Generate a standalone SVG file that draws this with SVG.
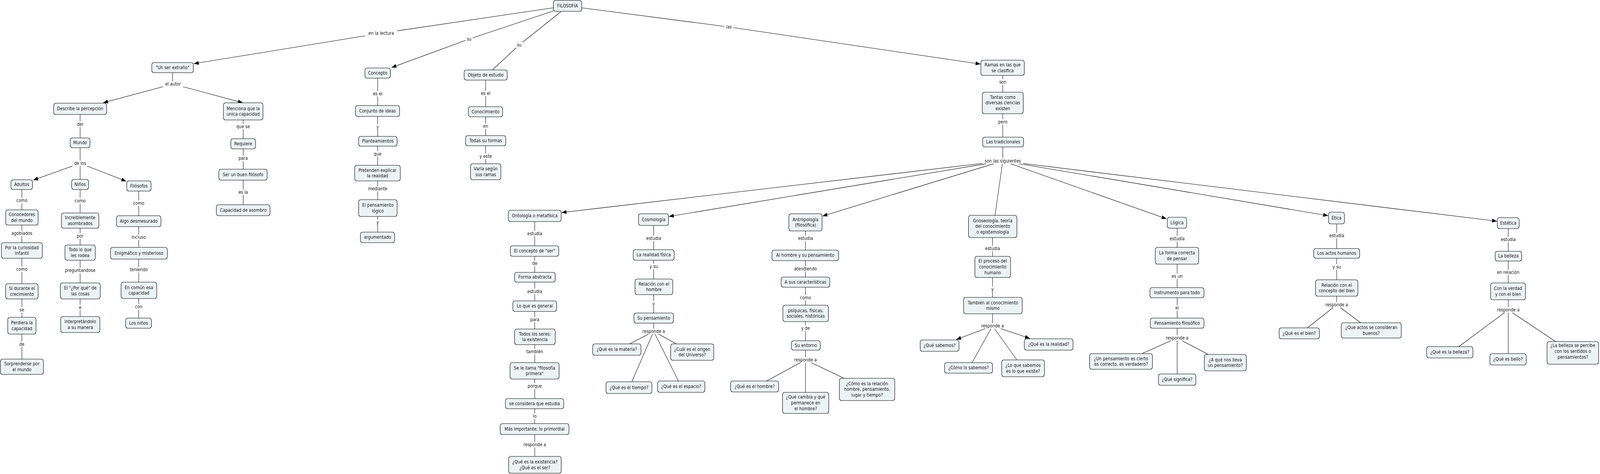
<svg xmlns="http://www.w3.org/2000/svg" width="4533" height="1213" viewBox="0 0 4533 1213">
<defs>
<marker id="ah" markerUnits="userSpaceOnUse" markerWidth="14" markerHeight="10" refX="14" refY="5" orient="auto" viewBox="0 0 14 10"><path d="M0,0 L14,5 L0,10 z" fill="#000"/></marker>
<style>
text{font-family:"DejaVu Sans",Verdana,sans-serif;font-size:11.5px;fill:#161616;text-anchor:middle}
.n rect{fill:#ECF3F5;stroke:#000;stroke-width:1.2}
.c path{stroke:#000;stroke-width:1.1;fill:none}
.c path.a{marker-end:url(#ah)}
.lb rect{fill:#fff}
</style>
</defs>
<rect x="0" y="0" width="4533" height="1213" fill="#fff"/>
<g id="diagram" transform="scale(0.903596,1)">
<g id="connectors" class="c">
<path class="a" d="M1567,20 L1080,85 L549,163"/>
<path class="a" d="M1568,28 L1329,100 L1109,173"/>
<path d="M1589,30 L1471,115 L1395,179"/>
<path class="a" d="M1648,20 L2065,69 L2778,164"/>
<path d="M489,186 L489,215"/>
<path class="a" d="M490,215 L688,263"/>
<path class="a" d="M490,215 L292,263"/>
<path d="M227,293 L227,418 L227,459"/>
<path class="a" d="M227,418 L94,461"/>
<path class="a" d="M227,418 L358,464"/>
<path d="M62,485 L62,919"/>
<path d="M227,485 L227,810"/>
<path d="M393,489 L393,814"/>
<path d="M689,307 L689,524"/>
<path d="M1070,200 L1070,594"/>
<path d="M1376,205 L1376,419"/>
<path d="M2841,193 L2841,412"/>
<path class="a" d="M2841,412 L1591,544"/>
<path class="a" d="M2841,412 L1895,554"/>
<path class="a" d="M2841,412 L2330,553"/>
<path d="M2841,412 L2819,551"/>
<path class="a" d="M2841,412 L3305,560"/>
<path class="a" d="M2841,412 L3763,552"/>
<path class="a" d="M2841,412 L4241,566"/>
<path d="M1515,567 L1515,1168"/>
<path d="M1852,577 L1852,848"/>
<path d="M1852,848 L1784,880"/>
<path d="M1852,848 L1916,880"/>
<path d="M1852,848 L1790,977"/>
<path d="M1852,848 L1922,975"/>
<path d="M2282,591 L2282,1004"/>
<path d="M2282,921 L2172,975"/>
<path d="M2282,921 L2391,968"/>
<path d="M2812,608 L2812,834"/>
<path class="a" d="M2812,834 L2709,869"/>
<path d="M2812,834 L2754,928"/>
<path d="M2812,834 L2881,921"/>
<path class="a" d="M2812,834 L2918,866"/>
<path d="M3335,584 L3335,957"/>
<path d="M3335,865 L3235,905"/>
<path d="M3335,865 L3423,907"/>
<path d="M3787,573 L3787,780"/>
<path d="M3787,780 L3704,839"/>
<path d="M3787,780 L3855,826"/>
<path d="M4273,585 L4273,905"/>
<path d="M4273,793 L4133,887"/>
<path d="M4273,793 L4407,874"/>
<g id="link-labels" class="lb">
<rect x="1034" y="78" width="92" height="14"/><text x="1080" y="89">en la lectura</text>
<rect x="1319" y="93" width="20" height="14"/><text x="1329" y="104">su</text>
<rect x="1461" y="108" width="20" height="14"/><text x="1471" y="119">su</text>
<rect x="2052" y="62" width="26" height="14"/><text x="2065" y="73">las</text>
<rect x="461" y="208" width="58" height="14"/><text x="490" y="219">el autor</text>
<rect x="214" y="311" width="26" height="14"/><text x="227" y="322">del</text>
<rect x="204" y="411" width="46" height="14"/><text x="227" y="422">de los</text>
<rect x="44" y="506" width="36" height="14"/><text x="62" y="517">como</text>
<rect x="209" y="507" width="36" height="14"/><text x="227" y="518">como</text>
<rect x="375" y="513" width="36" height="14"/><text x="393" y="524">como</text>
<rect x="29" y="590" width="66" height="14"/><text x="62" y="601">agobiados</text>
<rect x="214" y="597" width="26" height="14"/><text x="227" y="608">por</text>
<rect x="368" y="600" width="50" height="14"/><text x="393" y="611">incluso</text>
<rect x="44" y="682" width="36" height="14"/><text x="62" y="693">como</text>
<rect x="181" y="685" width="92" height="14"/><text x="227" y="696">preguntandose</text>
<rect x="363" y="683" width="60" height="14"/><text x="393" y="694">teniendo</text>
<rect x="52" y="786" width="20" height="14"/><text x="62" y="797">se</text>
<rect x="220" y="780" width="14" height="14"/><text x="227" y="791">e</text>
<rect x="379" y="778" width="28" height="14"/><text x="393" y="789">con</text>
<rect x="52" y="874" width="20" height="14"/><text x="62" y="885">de</text>
<rect x="666" y="317" width="46" height="14"/><text x="689" y="328">que se</text>
<rect x="672" y="398" width="34" height="14"/><text x="689" y="409">para</text>
<rect x="670" y="485" width="38" height="14"/><text x="689" y="496">es la</text>
<rect x="1051" y="233" width="38" height="14"/><text x="1070" y="244">es el</text>
<rect x="1063" y="318" width="14" height="14"/><text x="1070" y="329">y</text>
<rect x="1056" y="387" width="28" height="14"/><text x="1070" y="398">que</text>
<rect x="1039" y="476" width="62" height="14"/><text x="1070" y="487">mediante</text>
<rect x="1063" y="562" width="14" height="14"/><text x="1070" y="573">y</text>
<rect x="1357" y="232" width="38" height="14"/><text x="1376" y="243">es el</text>
<rect x="1366" y="316" width="20" height="14"/><text x="1376" y="327">en</text>
<rect x="1354" y="393" width="44" height="14"/><text x="1376" y="404">y este</text>
<rect x="2827" y="203" width="28" height="14"/><text x="2841" y="214">son</text>
<rect x="2824" y="305" width="34" height="14"/><text x="2841" y="316">pero</text>
<rect x="2783" y="405" width="116" height="14"/><text x="2841" y="416">son las siguientes</text>
<rect x="1489" y="591" width="52" height="14"/><text x="1515" y="602">estudia</text>
<rect x="1505" y="667" width="20" height="14"/><text x="1515" y="678">de</text>
<rect x="1489" y="739" width="52" height="14"/><text x="1515" y="750">estudia</text>
<rect x="1498" y="811" width="34" height="14"/><text x="1515" y="822">para</text>
<rect x="1487" y="893" width="56" height="14"/><text x="1515" y="904">también</text>
<rect x="1491" y="981" width="48" height="14"/><text x="1515" y="992">porque</text>
<rect x="1507" y="1058" width="16" height="14"/><text x="1515" y="1069">lo</text>
<rect x="1479" y="1131" width="72" height="14"/><text x="1515" y="1142">responde a</text>
<rect x="1826" y="603" width="52" height="14"/><text x="1852" y="614">estudia</text>
<rect x="1835" y="675" width="34" height="14"/><text x="1852" y="686">y su</text>
<rect x="1845" y="770" width="14" height="14"/><text x="1852" y="781">y</text>
<rect x="1816" y="841" width="72" height="14"/><text x="1852" y="852">responde a</text>
<rect x="2256" y="603" width="52" height="14"/><text x="2282" y="614">estudia</text>
<rect x="2246" y="681" width="72" height="14"/><text x="2282" y="692">atendiendo</text>
<rect x="2264" y="755" width="36" height="14"/><text x="2282" y="766">como</text>
<rect x="2265" y="833" width="34" height="14"/><text x="2282" y="844">y de</text>
<rect x="2246" y="914" width="72" height="14"/><text x="2282" y="925">responde a</text>
<rect x="2786" y="629" width="52" height="14"/><text x="2812" y="640">estudia</text>
<rect x="2805" y="733" width="14" height="14"/><text x="2812" y="744">y</text>
<rect x="2776" y="827" width="72" height="14"/><text x="2812" y="838">responde a</text>
<rect x="3309" y="604" width="52" height="14"/><text x="3335" y="615">estudia</text>
<rect x="3315" y="700" width="40" height="14"/><text x="3335" y="711">es un</text>
<rect x="3327" y="781" width="16" height="14"/><text x="3335" y="792">el</text>
<rect x="3299" y="858" width="72" height="14"/><text x="3335" y="869">responde a</text>
<rect x="3761" y="596" width="52" height="14"/><text x="3787" y="607">estudia</text>
<rect x="3770" y="676" width="34" height="14"/><text x="3787" y="687">y su</text>
<rect x="3751" y="773" width="72" height="14"/><text x="3787" y="784">responde a</text>
<rect x="4247" y="606" width="52" height="14"/><text x="4273" y="617">estudia</text>
<rect x="4236" y="690" width="74" height="14"/><text x="4273" y="701">en relación</text>
<rect x="4237" y="786" width="72" height="14"/><text x="4273" y="797">responde a</text>
</g>
</g>
<g id="nodes" class="n">
<g id="n1"><rect x="1568" y="1" width="80" height="28" rx="6"/><text x="1608" y="19">FILOSOFÍA</text></g>
<g id="n2"><rect x="430" y="160" width="118" height="26" rx="6"/><text x="489" y="177">"Un ser extraño"</text></g>
<g id="n3"><rect x="152" y="264" width="150" height="29" rx="6"/><text x="227" y="282.5">Describe la percepción</text></g>
<g id="n4"><rect x="633" y="263" width="112" height="44" rx="6"/><text x="689" y="281.7">Menciona que la</text><text x="689" y="296.3">unica capacidad</text></g>
<g id="n5"><rect x="199" y="353" width="56" height="25" rx="6"/><text x="227" y="369.5">Mundo</text></g>
<g id="n6"><rect x="654" y="355" width="70" height="26" rx="6"/><text x="689" y="372">Requiere</text></g>
<g id="n7"><rect x="620" y="433" width="137" height="28" rx="6"/><text x="688.5" y="451">Ser un buen filósofo</text></g>
<g id="n8"><rect x="613" y="524" width="152" height="28" rx="6"/><text x="689" y="542">Capacidad de asombro</text></g>
<g id="n9"><rect x="31" y="460" width="61" height="25" rx="6"/><text x="61.5" y="476.5">Adultos</text></g>
<g id="n10"><rect x="203" y="459" width="48" height="26" rx="6"/><text x="227" y="476">Niños</text></g>
<g id="n11"><rect x="359" y="463" width="69" height="26" rx="6"/><text x="393.5" y="480">Filósofos</text></g>
<g id="n12"><rect x="16" y="537" width="92" height="39" rx="6"/><text x="62" y="553.2">Conocedores</text><text x="62" y="567.8">del mundo</text></g>
<g id="n13"><rect x="174" y="545" width="106" height="39" rx="6"/><text x="227" y="561.2">Increiblemente</text><text x="227" y="575.8">asombrados</text></g>
<g id="n14"><rect x="330" y="552" width="126" height="28" rx="6"/><text x="393" y="570">Algo desmesurado</text></g>
<g id="n15"><rect x="4" y="621" width="116" height="40" rx="6"/><text x="62" y="637.7">Por la curiosidad</text><text x="62" y="652.3">infantil</text></g>
<g id="n16"><rect x="184" y="627" width="86" height="39" rx="6"/><text x="227" y="643.2">Todo lo que</text><text x="227" y="657.8">les rodea</text></g>
<g id="n17"><rect x="313" y="633" width="161" height="30" rx="6"/><text x="393.5" y="652">Enigmático y misterioso</text></g>
<g id="n18"><rect x="16" y="726" width="92" height="39" rx="6"/><text x="62" y="742.2">Si durante el</text><text x="62" y="756.8">crecimiento</text></g>
<g id="n19"><rect x="171" y="724" width="113" height="41" rx="6"/><text x="227.5" y="741.2">El "¿Por qué" de</text><text x="227.5" y="755.8">las cosas</text></g>
<g id="n20"><rect x="343" y="722" width="101" height="42" rx="6"/><text x="393.5" y="739.7">En común esa</text><text x="393.5" y="754.3">capacidad</text></g>
<g id="n21"><rect x="22" y="812" width="80" height="43" rx="6"/><text x="62" y="830.2">Perdiera la</text><text x="62" y="844.8">capacidad</text></g>
<g id="n22"><rect x="172" y="810" width="111" height="41" rx="6"/><text x="227.5" y="827.2">Interpretándolo</text><text x="227.5" y="841.8">a su manera</text></g>
<g id="n23"><rect x="356" y="814" width="73" height="26" rx="6"/><text x="392.5" y="831">Los niños</text></g>
<g id="n24"><rect x="1" y="919" width="122" height="39" rx="6"/><text x="62" y="935.2">Sorprenderse por</text><text x="62" y="949.8">el mundo</text></g>
<g id="n25"><rect x="1034" y="174" width="72" height="26" rx="6"/><text x="1070" y="191">Concepto</text></g>
<g id="n26"><rect x="1007" y="270" width="125" height="28" rx="6"/><text x="1069.5" y="288">Conjunto de ideas</text></g>
<g id="n27"><rect x="1016" y="349" width="109" height="25" rx="6"/><text x="1070.5" y="365.5">Planteamientos</text></g>
<g id="n28"><rect x="1005" y="423" width="129" height="40" rx="6"/><text x="1069.5" y="439.7">Pretenden explicar</text><text x="1069.5" y="454.3">la realidad</text></g>
<g id="n29"><rect x="1016" y="511" width="109" height="43" rx="6"/><text x="1070.5" y="529.2">El pensamiento</text><text x="1070.5" y="543.8">lógico</text></g>
<g id="n30"><rect x="1021" y="594" width="97" height="27" rx="6"/><text x="1069.5" y="611.5">argumentado</text></g>
<g id="n31"><rect x="1315" y="179" width="122" height="26" rx="6"/><text x="1376" y="196">Objeto de estudio</text></g>
<g id="n32"><rect x="1327" y="273" width="97" height="26" rx="6"/><text x="1375.5" y="290">Conocimiento</text></g>
<g id="n33"><rect x="1319" y="347" width="114" height="26" rx="6"/><text x="1376" y="364">Todas su formas</text></g>
<g id="n34"><rect x="1333" y="419" width="86" height="41" rx="6"/><text x="1376" y="436.2">Varía según</text><text x="1376" y="450.8">sus ramas</text></g>
<g id="n35"><rect x="2779" y="154" width="123" height="39" rx="6"/><text x="2840.5" y="170.2">Ramas en las que</text><text x="2840.5" y="184.8">se clasifica</text></g>
<g id="n36"><rect x="2783" y="236" width="116" height="55" rx="6"/><text x="2841" y="252.9">Tantas como</text><text x="2841" y="267.5">diversas ciencias</text><text x="2841" y="282.1">existen</text></g>
<g id="n37"><rect x="2784" y="351" width="116" height="25" rx="6"/><text x="2842" y="367.5">Las tradicionales</text></g>
<g id="n38"><rect x="1440" y="538" width="150" height="29" rx="6"/><text x="1515" y="556.5">Ontología o metafísica</text></g>
<g id="n39"><rect x="1446" y="629" width="137" height="27" rx="6"/><text x="1514.5" y="646.5">El concepto de "ser"</text></g>
<g id="n40"><rect x="1458" y="697" width="115" height="25" rx="6"/><text x="1515.5" y="713.5">Forma abstracta</text></g>
<g id="n41"><rect x="1453" y="770" width="124" height="27" rx="6"/><text x="1515" y="787.5">Lo que es general</text></g>
<g id="n42"><rect x="1458" y="842" width="115" height="40" rx="6"/><text x="1515.5" y="858.7">Todos los seres:</text><text x="1515.5" y="873.3">la existencia</text></g>
<g id="n43"><rect x="1445" y="928" width="139" height="42" rx="6"/><text x="1514.5" y="945.7">Se le llama "filosofía</text><text x="1514.5" y="960.3">primera"</text></g>
<g id="n44"><rect x="1432" y="1020" width="165" height="26" rx="6"/><text x="1514.5" y="1037">se considera que estudia</text></g>
<g id="n45"><rect x="1417" y="1084" width="195" height="28" rx="6"/><text x="1514.5" y="1102">Más importante; lo primordial</text></g>
<g id="n46"><rect x="1441" y="1168" width="149" height="43" rx="6"/><text x="1515.5" y="1186.2">¿Qué es la existencia?</text><text x="1515.5" y="1200.8">¿Qué es el ser?</text></g>
<g id="n47"><rect x="1809" y="547" width="85" height="30" rx="6"/><text x="1851.5" y="566">Cosmología</text></g>
<g id="n48"><rect x="1794" y="639" width="116" height="27" rx="6"/><text x="1852" y="656.5">La realidad física</text></g>
<g id="n49"><rect x="1799" y="714" width="107" height="40" rx="6"/><text x="1852.5" y="730.7">Relación con el</text><text x="1852.5" y="745.3">hombre</text></g>
<g id="n50"><rect x="1796" y="801" width="112" height="26" rx="6"/><text x="1852" y="818">Su pensamiento</text></g>
<g id="n51"><rect x="1679" y="880" width="137" height="29" rx="6"/><text x="1747.5" y="898.5">¿Qué es la materia?</text></g>
<g id="n52"><rect x="1900" y="880" width="122" height="42" rx="6"/><text x="1961" y="897.7">¿Cuál es el origen</text><text x="1961" y="912.3">del Universo?</text></g>
<g id="n53"><rect x="1717" y="977" width="130" height="30" rx="6"/><text x="1782" y="996">¿Qué es el tiempo?</text></g>
<g id="n54"><rect x="1863" y="975" width="134" height="29" rx="6"/><text x="1930" y="993.5">¿Qué es el espacio?</text></g>
<g id="n55"><rect x="2235" y="547" width="94" height="44" rx="6"/><text x="2282" y="565.7">Antropología</text><text x="2282" y="580.3">(filosófica)</text></g>
<g id="n56"><rect x="2187" y="640" width="189" height="27" rx="6"/><text x="2281.5" y="657.5">Al hombre y su pensamiento</text></g>
<g id="n57"><rect x="2213" y="709" width="138" height="26" rx="6"/><text x="2282" y="726">A sus características</text></g>
<g id="n58"><rect x="2218" y="781" width="129" height="42" rx="6"/><text x="2282.5" y="798.7">psíquicas, físicas,</text><text x="2282.5" y="813.3">sociales, históricas</text></g>
<g id="n59"><rect x="2242" y="872" width="82" height="24" rx="6"/><text x="2283" y="888">Su entorno</text></g>
<g id="n60"><rect x="2070" y="975" width="136" height="28" rx="6"/><text x="2138" y="993">¿Qué es el hombre?</text></g>
<g id="n61"><rect x="2217" y="1004" width="131" height="54" rx="6"/><text x="2282.5" y="1020.4">¿Qué cambia y qué</text><text x="2282.5" y="1035">permanece en</text><text x="2282.5" y="1049.6">el hombre?</text></g>
<g id="n62"><rect x="2378" y="968" width="157" height="57" rx="6"/><text x="2456.5" y="985.9">¿Cómo es la relación</text><text x="2456.5" y="1000.5">hombre, pensamiento,</text><text x="2456.5" y="1015.1">lugar y tiempo?</text></g>
<g id="n63"><rect x="2744" y="551" width="137" height="57" rx="6"/><text x="2812.5" y="568.9">Gnoseología, teoría</text><text x="2812.5" y="583.5">del conocimiento</text><text x="2812.5" y="598.1">o epistemología</text></g>
<g id="n64"><rect x="2762" y="656" width="101" height="54" rx="6"/><text x="2812.5" y="672.4">El proceso del</text><text x="2812.5" y="687">conocimiento</text><text x="2812.5" y="701.6">humano</text></g>
<g id="n65"><rect x="2730" y="761" width="166" height="42" rx="6"/><text x="2813" y="778.7">También al conocimiento</text><text x="2813" y="793.3">mismo</text></g>
<g id="n66"><rect x="2607" y="870" width="110" height="29" rx="6"/><text x="2662" y="888.5">¿Qué sabemos?</text></g>
<g id="n67"><rect x="2676" y="928" width="136" height="27" rx="6"/><text x="2744" y="945.5">¿Cómo lo sabemos?</text></g>
<g id="n68"><rect x="2838" y="921" width="121" height="43" rx="6"/><text x="2898.5" y="939.2">¿Lo que sabemos</text><text x="2898.5" y="953.8">es lo que existe?</text></g>
<g id="n69"><rect x="2902" y="867" width="138" height="29" rx="6"/><text x="2971" y="885.5">¿Qué es la realidad?</text></g>
<g id="n70"><rect x="3307" y="556" width="55" height="28" rx="6"/><text x="3334.5" y="574">Lógica</text></g>
<g id="n71"><rect x="3273" y="633" width="123" height="43" rx="6"/><text x="3334.5" y="651.2">La forma correcta</text><text x="3334.5" y="665.8">de pensar</text></g>
<g id="n72"><rect x="3258" y="736" width="153" height="26" rx="6"/><text x="3334.5" y="753">Instrumento para todo</text></g>
<g id="n73"><rect x="3259" y="814" width="152" height="26" rx="6"/><text x="3335" y="831">Pensamiento filosófico</text></g>
<g id="n74"><rect x="3087" y="905" width="178" height="40" rx="6"/><text x="3176" y="921.7">¿Un pensamiento es cierto</text><text x="3176" y="936.3">es correcto, es verdadero?</text></g>
<g id="n75"><rect x="3282" y="957" width="106" height="29" rx="6"/><text x="3335" y="975.5">¿Qué significa?</text></g>
<g id="n76"><rect x="3412" y="907" width="119" height="42" rx="6"/><text x="3471.5" y="924.7">¿A qué nos lleva</text><text x="3471.5" y="939.3">un pensamiento?</text></g>
<g id="n77"><rect x="3764" y="543" width="45" height="30" rx="6"/><text x="3786.5" y="562">Ética</text></g>
<g id="n78"><rect x="3722" y="636" width="130" height="25" rx="6"/><text x="3787" y="652.5">Los actos humanos</text></g>
<g id="n79"><rect x="3727" y="716" width="120" height="42" rx="6"/><text x="3787" y="733.7">Relación con el</text><text x="3787" y="748.3">concepto del bien</text></g>
<g id="n80"><rect x="3624" y="839" width="114" height="28" rx="6"/><text x="3681" y="857">¿Qué es el bien?</text></g>
<g id="n81"><rect x="3800" y="826" width="170" height="39" rx="6"/><text x="3885" y="842.2">¿Que actos se consideran</text><text x="3885" y="856.8">buenos?</text></g>
<g id="n82"><rect x="4242" y="557" width="62" height="28" rx="6"/><text x="4273" y="575">Estética</text></g>
<g id="n83"><rect x="4236" y="643" width="75" height="25" rx="6"/><text x="4273.5" y="659.5">La belleza</text></g>
<g id="n84"><rect x="4223" y="724" width="99" height="43" rx="6"/><text x="4272.5" y="742.2">Con la verdad</text><text x="4272.5" y="756.8">y con el bien</text></g>
<g id="n85"><rect x="4042" y="887" width="131" height="29" rx="6"/><text x="4107.5" y="905.5">¿Qué es la belleza?</text></g>
<g id="n86"><rect x="4221" y="905" width="103" height="29" rx="6"/><text x="4272.5" y="923.5">¿Qué es bello?</text></g>
<g id="n87"><rect x="4383" y="874" width="146" height="58" rx="6"/><text x="4456" y="888.4">¿La belleza se percibe</text><text x="4456" y="903">con los sentidos o</text><text x="4456" y="917.6">pensamientos?</text></g>
</g>
</g>
</svg>
